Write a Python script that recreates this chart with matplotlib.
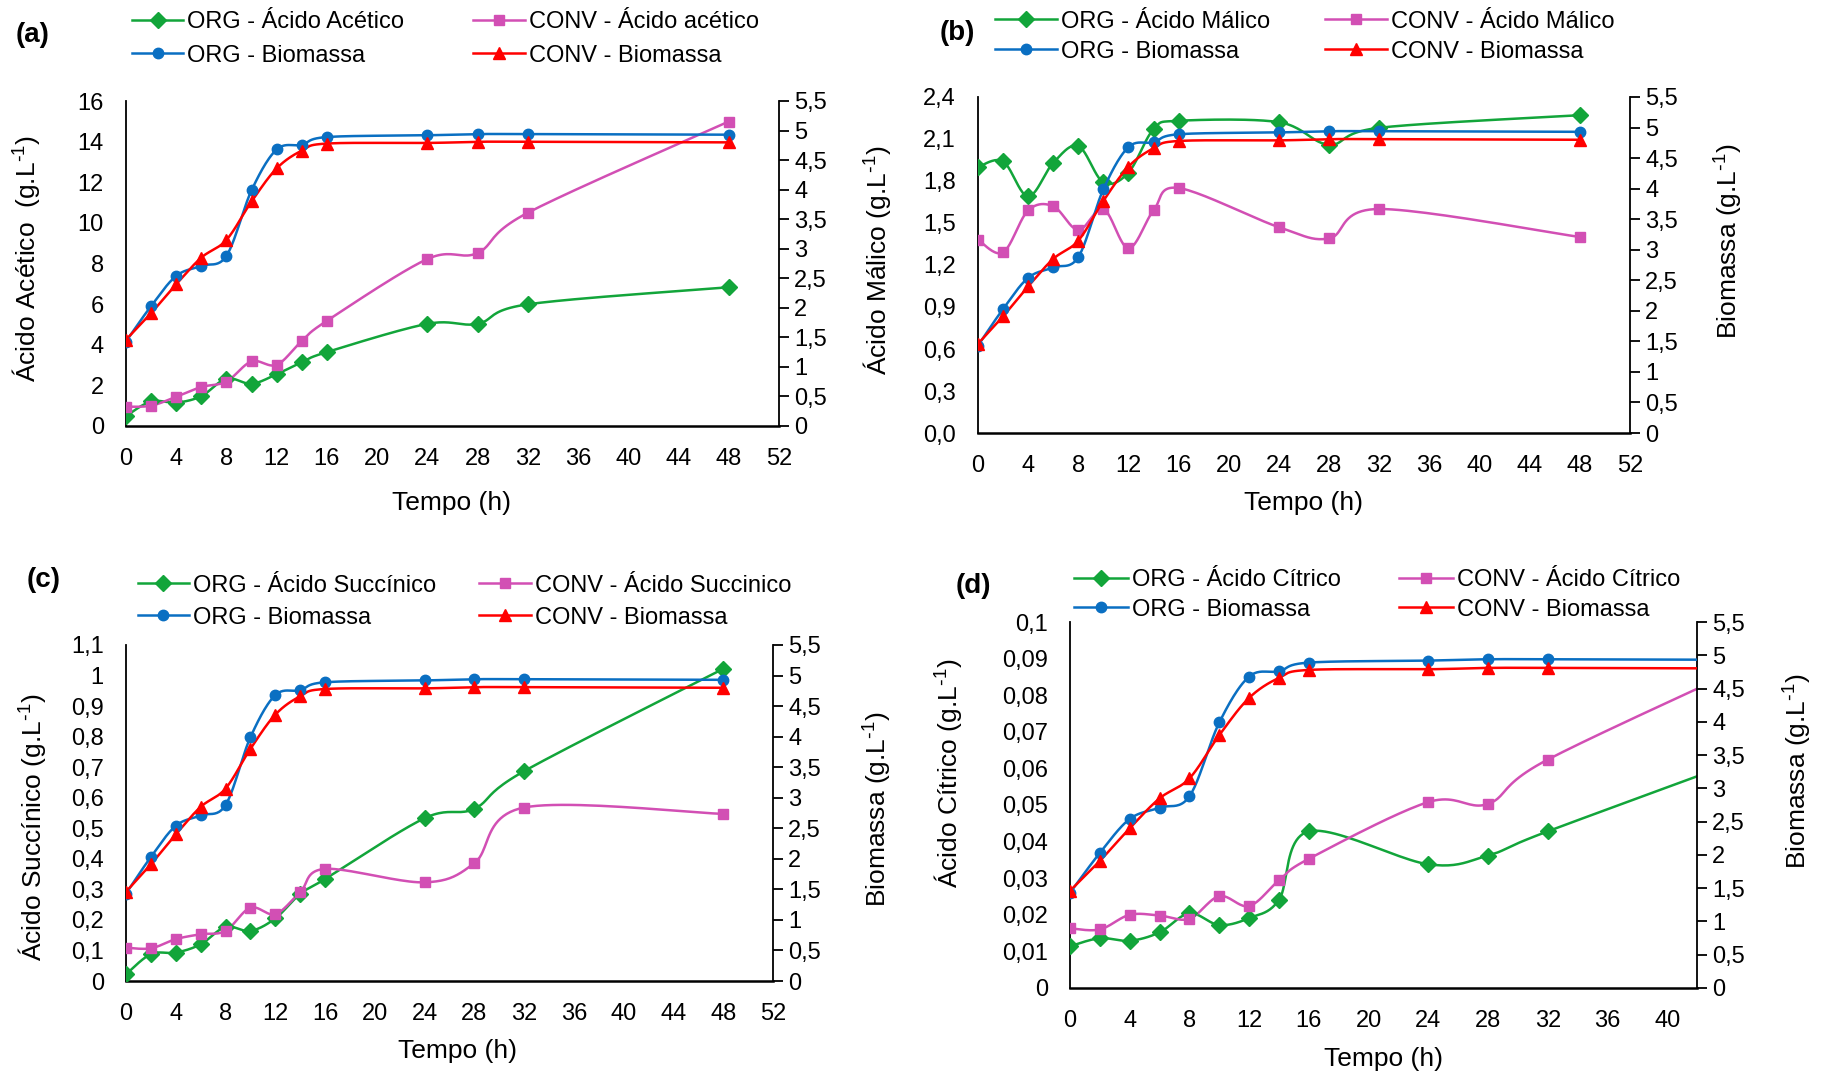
import numpy as np
import matplotlib
matplotlib.use("Agg")
import matplotlib.pyplot as plt
from matplotlib.lines import Line2D

plt.rcParams['font.family'] = ['Liberation Sans', 'DejaVu Sans']
plt.rcParams['mathtext.default'] = 'regular'

W, H = 1831, 1075

# Data
tempo = [0, 2, 4, 6, 8, 10, 12, 14, 16, 24, 28, 32, 48]

biomassa_org = [1.43, 2.03, 2.54, 2.71, 2.88, 3.99, 4.68, 4.76, 4.89, 4.92, 4.94, 4.94, 4.93]
biomassa_conv = [1.46, 1.91, 2.40, 2.85, 3.15, 3.80, 4.36, 4.66, 4.78, 4.79, 4.81, 4.81, 4.80]

acetico_org = [0.49, 1.21, 1.15, 1.47, 2.33, 2.08, 2.55, 3.14, 3.64, 5.03, 5.03, 5.99, 6.83]
acetico_conv = [0.95, 1.00, 1.44, 1.92, 2.19, 3.18, 3.01, 4.19, 5.18, 8.22, 8.52, 10.5, 14.99]

malico_org = [1.90, 1.94, 1.69, 1.93, 2.05, 1.79, 1.86, 2.17, 2.23, 2.22, 2.06, 2.18, 2.27]
malico_conv = [1.38, 1.29, 1.59, 1.62, 1.45, 1.60, 1.32, 1.59, 1.75, 1.47, 1.39, 1.60, 1.40]

succinico_org = [0.022, 0.088, 0.093, 0.12, 0.177, 0.164, 0.205, 0.285, 0.334, 0.533, 0.564, 0.687, 1.022]
succinico_conv = [0.109, 0.107, 0.137, 0.153, 0.164, 0.240, 0.219, 0.291, 0.367, 0.323, 0.386, 0.568, 0.547]

citrico_org = [0.0114, 0.0136, 0.0129, 0.0152, 0.0204, 0.0172, 0.0191, 0.0241, 0.0428, 0.0338, 0.0362, 0.0428, 0.0668]
citrico_conv = [0.0163, 0.0160, 0.0200, 0.0198, 0.0189, 0.0251, 0.0224, 0.0294, 0.0353, 0.0508, 0.0503, 0.0624, 0.0930]

x_ticks_52 = [0, 4, 8, 12, 16, 20, 24, 28, 32, 36, 40, 44, 48, 52]
x_ticks_40 = [0, 4, 8, 12, 16, 20, 24, 28, 32, 36, 40]

bio_ticks = [0, 0.5, 1, 1.5, 2, 2.5, 3, 3.5, 4, 4.5, 5, 5.5]
bio_labels = ['0', '0,5', '1', '1,5', '2', '2,5', '3', '3,5', '4', '4,5', '5', '5,5']

acetico_ticks = [0, 2, 4, 6, 8, 10, 12, 14, 16]
acetico_labels = ['0', '2', '4', '6', '8', '10', '12', '14', '16']
malico_ticks = [0, 0.3, 0.6, 0.9, 1.2, 1.5, 1.8, 2.1, 2.4]
malico_labels = ['0,0', '0,3', '0,6', '0,9', '1,2', '1,5', '1,8', '2,1', '2,4']
succinico_ticks = [0, 0.1, 0.2, 0.3, 0.4, 0.5, 0.6, 0.7, 0.8, 0.9, 1.0, 1.1]
succinico_labels = ['0', '0,1', '0,2', '0,3', '0,4', '0,5', '0,6', '0,7', '0,8', '0,9', '1', '1,1']
citrico_ticks = [0, 0.01, 0.02, 0.03, 0.04, 0.05, 0.06, 0.07, 0.08, 0.09, 0.1]
citrico_labels = ['0', '0,01', '0,02', '0,03', '0,04', '0,05', '0,06', '0,07', '0,08', '0,09', '0,1']

GREEN = '#12A53A'
PINK = '#D24FB4'
BLUE = '#0A6FC2'
RED = '#FF0000'
FS = 17
LW = 1.8


def smooth(x, y, n=24):
    # Excel-like smoothed line: Bezier segments with Catmull-Rom control points
    x = np.asarray(x, float)
    y = np.asarray(y, float)
    P = np.column_stack([x, y])
    P = np.vstack([P[0], P, P[-1]])
    t = np.linspace(0, 1, n)[:, None]
    out = []
    for i in range(1, len(P) - 2):
        p0, p1, p2, p3 = P[i - 1], P[i], P[i + 1], P[i + 2]
        c1 = p1 + (p2 - p0) / 6
        c2 = p2 - (p3 - p1) / 6
        seg = ((1 - t) ** 3) * p1 + 3 * ((1 - t) ** 2) * t * c1 + 3 * (1 - t) * t ** 2 * c2 + t ** 3 * p2
        out.append(seg if i == 1 else seg[1:])
    out = np.vstack(out)
    return out[:, 0], out[:, 1]


def series(ax, y, color, marker, ms):
    sx, sy = smooth(tempo, y)
    ax.plot(sx, sy, color=color, lw=LW, zorder=3)
    ax.plot(tempo, y, ls='none', marker=marker, ms=ms, color=color, zorder=4)


def key(fig, x0, x1, y, color, marker, ms, label):
    yf = 1 - y / H
    fig.add_artist(Line2D([x0 / W, x1 / W], [yf, yf], color=color, lw=LW))
    fig.add_artist(Line2D([(x0 + x1) / 2 / W], [yf], marker=marker, ms=ms,
                          color=color, ls='none'))
    fig.text((x1 + 4) / W, yf, label, fontsize=FS, va='center_baseline', ha='left')


def panel(fig, box, acid_org, acid_conv, ylim, yticks, ylabels, xlim, xticks,
          ylabel, ylab_xy, xlab_xy, rlabel, rlab_xy, tag, tag_xy,
          col1, col2, rows, acid_name_org, acid_name_conv):
    l, r, t, b = box
    ax = fig.add_axes([l / W, 1 - b / H, (r - l) / W, (b - t) / H])
    ax2 = ax.twinx()

    series(ax, acid_org, GREEN, 'D', 8)
    series(ax, acid_conv, PINK, 's', 7.5)
    series(ax2, biomassa_org, BLUE, 'o', 7.5)
    series(ax2, biomassa_conv, RED, '^', 8.5)

    ax.set_xlim(*xlim)
    ax.set_ylim(*ylim)
    ax.set_xticks(xticks)
    ax.set_xticklabels([str(v) for v in xticks])
    ax.set_yticks(yticks)
    ax.set_yticklabels(ylabels)
    ax2.set_ylim(0, 5.5)
    ax2.set_yticks(bio_ticks)
    ax2.set_yticklabels(bio_labels)

    for s in ['top', 'right']:
        ax.spines[s].set_visible(False)
    for s in ['top', 'left', 'bottom']:
        ax2.spines[s].set_visible(False)
    ax.spines['left'].set_linewidth(1.3)
    ax.spines['bottom'].set_linewidth(1.8)
    ax2.spines['right'].set_linewidth(1.3)

    ax.tick_params(axis='y', length=0, pad=16, labelsize=FS)
    ax.tick_params(axis='x', length=0, pad=16, labelsize=FS)
    ax2.tick_params(axis='y', length=7, width=1.3, direction='out', pad=4, labelsize=FS)
    ax.patch.set_visible(False)

    fig.text(ylab_xy[0] / W, 1 - ylab_xy[1] / H, ylabel, rotation=90,
             ha='center', va='center', fontsize=19)
    fig.text(xlab_xy[0] / W, 1 - xlab_xy[1] / H, 'Tempo (h)',
             ha='center', va='center', fontsize=19)
    if rlabel:
        fig.text(rlab_xy[0] / W, 1 - rlab_xy[1] / H, rlabel, rotation=90,
                 ha='center', va='center', fontsize=19)
    fig.text(tag_xy[0] / W, 1 - tag_xy[1] / H, tag, ha='center', va='center',
             fontsize=20, fontweight='bold')

    key(fig, col1[0], col1[1], rows[0], GREEN, 'D', 8, acid_name_org)
    key(fig, col1[0], col1[1], rows[1], BLUE, 'o', 7.5, 'ORG - Biomassa')
    key(fig, col2[0], col2[1], rows[0], PINK, 's', 7.5, acid_name_conv)
    key(fig, col2[0], col2[1], rows[1], RED, '^', 8.5, 'CONV - Biomassa')


fig = plt.figure(figsize=(W / 100, H / 100), dpi=100)
gl = r' (g.L$^{\text{-}1}$)'

panel(fig, (126, 779, 101, 426), acetico_org, acetico_conv, (0, 16), acetico_ticks,
      acetico_labels, (0, 52), x_ticks_52, 'Ácido Acético ' + gl, (26, 258), (452, 503),
      None, None, '(a)', (33, 35), (132, 183), (473, 525), (20, 53),
      'ORG - Ácido Acético', 'CONV - Ácido acético')

panel(fig, (978, 1630, 97, 433), malico_org, malico_conv, (0, 2.4), malico_ticks,
      malico_labels, (0, 52), x_ticks_52, 'Ácido Málico' + gl, (877, 260), (1304, 503),
      'Biomassa' + gl, (1729, 241), '(b)', (957, 33), (995, 1057), (1325, 1387), (19, 49),
      'ORG - Ácido Málico', 'CONV - Ácido Málico')

panel(fig, (126, 773, 645, 981), succinico_org, succinico_conv, (0, 1.1), succinico_ticks,
      succinico_labels, (0, 52), x_ticks_52, 'Ácido Succínico' + gl, (32, 827), (458, 1051),
      'Biomassa' + gl, (878, 809), '(c)', (44, 580), (138, 189), (479, 531), (583, 615),
      'ORG - Ácido Succínico', 'CONV - Ácido Succinico')

panel(fig, (1070, 1697, 622, 988), citrico_org, citrico_conv, (0, 0.1), citrico_ticks,
      citrico_labels, (0, 42), x_ticks_40, 'Ácido Cítrico' + gl, (948, 773), (1384, 1059),
      'Biomassa' + gl, (1798, 771), '(d)', (973, 586), (1074, 1128), (1399, 1453), (578, 607),
      'ORG - Ácido Cítrico', 'CONV - Ácido Cítrico')

fig.savefig('out.png', dpi=100)
